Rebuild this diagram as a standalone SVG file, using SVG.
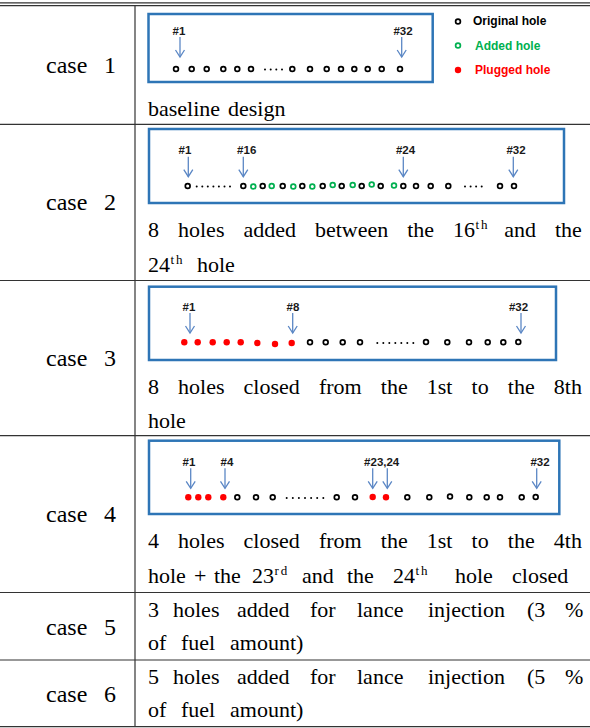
<svg xmlns="http://www.w3.org/2000/svg" width="590" height="728" viewBox="0 0 590 728">
<style>
.bg{fill:#fff}
.rule{stroke:#333;stroke-width:1.2;fill:none}
.box{fill:#fff;stroke:#2E75B6;stroke-width:2.5}
.o{fill:#fff;stroke:#000;stroke-width:1.7}
.g{fill:#fff;stroke:#00B050;stroke-width:1.7}
.p{fill:#FF0000}
.d{fill:#000}
.lb{font-family:'Liberation Sans',Arial,sans-serif;font-weight:bold;font-size:11.5px;text-anchor:middle;fill:#1a1a1a}
.lg{font-family:'Liberation Sans',Arial,sans-serif;font-weight:bold;font-size:12px}
.t{font-family:'Liberation Serif','DejaVu Serif',serif;font-size:22px;fill:#000}
.c{font-family:'Liberation Serif','DejaVu Serif',serif;font-size:24px;fill:#000}
.sup{font-size:13px;letter-spacing:2px}
.arr{stroke:#5B87C5;stroke-width:1.3;fill:none;marker-end:url(#ah)}
</style>
<defs>
<marker id="ah" viewBox="-1 -6 9 12" markerWidth="9" markerHeight="12" refX="7" refY="0" orient="auto" markerUnits="userSpaceOnUse" overflow="visible">
<path d="M0,-4.5 L7,0 L0,4.5" fill="none" stroke="#5B87C5" stroke-width="1.3"/>
</marker>
</defs>
<rect class="bg" x="0" y="0" width="590" height="728"/>

<g id="table">
<line class="rule" x1="0" y1="2.8" x2="590" y2="2.8"/>
<line class="rule" x1="0" y1="5.6" x2="590" y2="5.6"/>
<line class="rule" x1="135" y1="5.6" x2="135" y2="727"/>
<line class="rule" x1="0" y1="124.3" x2="590" y2="124.3"/>
<line class="rule" x1="0" y1="280.5" x2="590" y2="280.5"/>
<line class="rule" x1="0" y1="435.7" x2="590" y2="435.7"/>
<line class="rule" x1="0" y1="592.5" x2="590" y2="592.5"/>
<line class="rule" x1="0" y1="660" x2="590" y2="660"/>
<line class="rule" x1="0" y1="726.7" x2="590" y2="726.7"/>
</g>

<g id="case1">
<text class="c" x="46" y="73">case<tspan x="98"> 1</tspan></text>
<rect class="box" x="148.5" y="14" width="284.2" height="68"/>
<text class="lb" x="179" y="35">#1</text>
<text class="lb" x="403" y="35">#32</text>
<g>
<circle class="o" cx="176" cy="69" r="2.4"/><circle class="o" cx="191.7" cy="69" r="2.4"/><circle class="o" cx="206.7" cy="69" r="2.4"/><circle class="o" cx="223.3" cy="69" r="2.4"/><circle class="o" cx="237.3" cy="69" r="2.4"/><circle class="o" cx="251" cy="69" r="2.4"/>
<circle class="d" cx="265" cy="69.5" r="1"/><circle class="d" cx="270.7" cy="69.5" r="1"/><circle class="d" cx="276.3" cy="69.5" r="1"/><circle class="d" cx="282" cy="69.5" r="1"/>
<circle class="o" cx="292.3" cy="69" r="2.4"/><circle class="o" cx="310" cy="69" r="2.4"/><circle class="o" cx="326.7" cy="69" r="2.4"/><circle class="o" cx="341" cy="69" r="2.4"/><circle class="o" cx="354.3" cy="69" r="2.4"/><circle class="o" cx="367.7" cy="69" r="2.4"/><circle class="o" cx="381.7" cy="69" r="2.4"/><circle class="o" cx="400" cy="69" r="2.4"/>
</g>
<text class="t" y="116"><tspan x="148">baseline</tspan> <tspan x="228">design</tspan></text>
</g>

<g id="legend">
<circle class="o" cx="458" cy="21.5" r="2.4"/>
<text class="lg" x="473" y="25" fill="#000">Original hole</text>
<circle class="g" cx="458" cy="45.5" r="2.4"/>
<text class="lg" x="475" y="49.5" fill="#00B050">Added hole</text>
<circle class="p" cx="458" cy="70" r="3.2"/>
<text class="lg" x="475" y="74" fill="#FF0000">Plugged hole</text>
</g>

<g id="case2">
<text class="c" x="46" y="210">case<tspan x="98"> 2</tspan></text>
<rect class="box" x="149" y="129" width="415" height="74"/>
<text class="lb" x="185" y="154">#1</text>
<text class="lb" x="246.7" y="154">#16</text>
<text class="lb" x="405.5" y="154">#24</text>
<text class="lb" x="516" y="154">#32</text>
<g>
<circle class="o" cx="187.7" cy="186" r="2.4"/>
<circle class="d" cx="196.7" cy="186.5" r="1"/><circle class="d" cx="202.3" cy="186.5" r="1"/><circle class="d" cx="207.8" cy="186.5" r="1"/><circle class="d" cx="213.4" cy="186.5" r="1"/><circle class="d" cx="218.9" cy="186.5" r="1"/><circle class="d" cx="224.5" cy="186.5" r="1"/><circle class="d" cx="230" cy="186.5" r="1"/>
<circle class="o" cx="243.3" cy="186" r="2.4"/><circle class="g" cx="253.3" cy="186.5" r="2.4"/>
<circle class="o" cx="262.7" cy="186" r="2.4"/><circle class="g" cx="271.7" cy="186" r="2.4"/>
<circle class="o" cx="282.7" cy="186" r="2.4"/><circle class="g" cx="293.3" cy="186.5" r="2.4"/>
<circle class="o" cx="302.3" cy="186" r="2.4"/><circle class="g" cx="312.3" cy="186.5" r="2.4"/>
<circle class="o" cx="322.7" cy="186" r="2.4"/><circle class="g" cx="332.7" cy="185" r="2.4"/>
<circle class="o" cx="341.7" cy="186" r="2.4"/><circle class="g" cx="352.7" cy="185" r="2.4"/>
<circle class="o" cx="361.7" cy="186" r="2.4"/><circle class="g" cx="371.7" cy="184.5" r="2.4"/>
<circle class="o" cx="380.7" cy="186" r="2.4"/><circle class="g" cx="394" cy="185.5" r="2.4"/>
<circle class="o" cx="403.3" cy="186" r="2.4"/><circle class="o" cx="416" cy="186" r="2.4"/><circle class="o" cx="430.7" cy="186" r="2.4"/><circle class="o" cx="448.3" cy="186" r="2.4"/>
<circle class="d" cx="465" cy="186.5" r="1"/><circle class="d" cx="470.6" cy="186.5" r="1"/><circle class="d" cx="476.1" cy="186.5" r="1"/><circle class="d" cx="481.7" cy="186.5" r="1"/>
<circle class="o" cx="500" cy="186" r="2.4"/><circle class="o" cx="514" cy="186" r="2.4"/>
</g>
<text class="t" y="237"><tspan x="148">8</tspan> <tspan x="178">holes</tspan> <tspan x="243.4">added</tspan> <tspan x="314.9">between</tspan> <tspan x="407.2">the</tspan> <tspan x="453.1">16</tspan><tspan class="sup" x="475.5" y="229">th</tspan> <tspan x="504.2" y="237">and</tspan> <tspan x="555">the</tspan></text>
<text class="t" y="272"><tspan x="148">24</tspan><tspan class="sup" x="170.5" y="264">th</tspan> <tspan x="197" y="272">hole</tspan></text>
</g>

<g id="case3">
<text class="c" x="46" y="366">case<tspan x="98"> 3</tspan></text>
<rect class="box" x="149" y="286.7" width="407" height="73.3"/>
<text class="lb" x="189" y="311">#1</text>
<text class="lb" x="293" y="311">#8</text>
<text class="lb" x="518.5" y="311">#32</text>
<g>
<circle class="p" cx="184.3" cy="342.3" r="3.2"/><circle class="p" cx="197.7" cy="342.3" r="3.2"/><circle class="p" cx="212.7" cy="342.3" r="3.2"/><circle class="p" cx="226.7" cy="342.3" r="3.2"/><circle class="p" cx="240.7" cy="342.3" r="3.2"/><circle class="p" cx="257.3" cy="343" r="3.2"/><circle class="p" cx="275" cy="344" r="3.2"/><circle class="p" cx="291.7" cy="343" r="3.2"/>
<circle class="o" cx="310" cy="342.3" r="2.4"/><circle class="o" cx="325.7" cy="342.3" r="2.4"/><circle class="o" cx="342.7" cy="342.3" r="2.4"/><circle class="o" cx="360" cy="342.3" r="2.4"/>
<circle class="d" cx="377.3" cy="343" r="1"/><circle class="d" cx="383.3" cy="343" r="1"/><circle class="d" cx="389.3" cy="343" r="1"/><circle class="d" cx="395.3" cy="343" r="1"/><circle class="d" cx="401.3" cy="343" r="1"/><circle class="d" cx="407.3" cy="343" r="1"/><circle class="d" cx="413.3" cy="343" r="1"/>
<circle class="o" cx="426" cy="342" r="2.4"/><circle class="o" cx="447.3" cy="342.3" r="2.4"/><circle class="o" cx="469" cy="342.3" r="2.4"/><circle class="o" cx="487.7" cy="342.3" r="2.4"/><circle class="o" cx="503.3" cy="342.3" r="2.4"/><circle class="o" cx="518.3" cy="342" r="2.4"/>
</g>
<text class="t" y="394"><tspan x="148">8</tspan> <tspan x="178.1">holes</tspan> <tspan x="243.6">closed</tspan> <tspan x="318.9">from</tspan> <tspan x="380.8">the</tspan> <tspan x="426.8">1st</tspan> <tspan x="471.6">to</tspan> <tspan x="507.8">the</tspan> <tspan x="553.8">8th</tspan></text>
<text class="t" x="148" y="428">hole</text>
</g>

<g id="case4">
<text class="c" x="46" y="522">case<tspan x="98"> 4</tspan></text>
<rect class="box" x="149" y="440.7" width="410.3" height="73.3"/>
<text class="lb" x="189" y="465.7">#1</text>
<text class="lb" x="227" y="465.7">#4</text>
<text class="lb" x="381.7" y="465.7">#23,24</text>
<text class="lb" x="540" y="465.7">#32</text>
<g>
<circle class="p" cx="188.3" cy="497.3" r="3.2"/><circle class="p" cx="198.3" cy="497.3" r="3.2"/><circle class="p" cx="208.3" cy="497.3" r="3.2"/><circle class="p" cx="223.3" cy="497.3" r="3.2"/>
<circle class="o" cx="237.3" cy="497.3" r="2.4"/><circle class="o" cx="256" cy="497.3" r="2.4"/><circle class="o" cx="272.7" cy="497.3" r="2.4"/>
<circle class="d" cx="286.7" cy="498" r="1"/><circle class="d" cx="292.8" cy="498" r="1"/><circle class="d" cx="298.9" cy="498" r="1"/><circle class="d" cx="305" cy="498" r="1"/><circle class="d" cx="311.1" cy="498" r="1"/><circle class="d" cx="317.2" cy="498" r="1"/><circle class="d" cx="323.3" cy="498" r="1"/>
<circle class="o" cx="336.7" cy="497.3" r="2.4"/><circle class="o" cx="355" cy="497.3" r="2.4"/>
<circle class="p" cx="372.7" cy="497" r="3.2"/><circle class="p" cx="386" cy="497.3" r="3.2"/>
<circle class="o" cx="407.3" cy="497.3" r="2.4"/><circle class="o" cx="429.3" cy="497.3" r="2.4"/><circle class="o" cx="450" cy="496.5" r="2.4"/><circle class="o" cx="469.3" cy="497.3" r="2.4"/><circle class="o" cx="486.7" cy="497.3" r="2.4"/><circle class="o" cx="500" cy="497.3" r="2.4"/><circle class="o" cx="521.7" cy="497.3" r="2.4"/><circle class="o" cx="535.7" cy="497" r="2.4"/>
</g>
<text class="t" y="548"><tspan x="148">4</tspan> <tspan x="178.1">holes</tspan> <tspan x="243.6">closed</tspan> <tspan x="318.9">from</tspan> <tspan x="380.8">the</tspan> <tspan x="426.8">1st</tspan> <tspan x="471.6">to</tspan> <tspan x="507.8">the</tspan> <tspan x="553.8">4th</tspan></text>
<text class="t" y="583"><tspan x="148">hole</tspan> <tspan x="194">+</tspan> <tspan x="214">the</tspan> <tspan x="252">23</tspan><tspan class="sup" x="274.5" y="575">rd</tspan> <tspan x="302" y="583">and</tspan> <tspan x="347">the</tspan> <tspan x="393">24</tspan><tspan class="sup" x="415.5" y="575">th</tspan> <tspan x="455" y="583">hole</tspan> <tspan x="512">closed</tspan></text>
</g>

<g id="case5">
<text class="c" x="46" y="635">case<tspan x="98"> 5</tspan></text>
<text class="t" y="617"><tspan x="148">3</tspan> <tspan x="173">holes</tspan> <tspan x="237">added</tspan> <tspan x="310">for</tspan> <tspan x="357">lance</tspan> <tspan x="428">injection</tspan> <tspan x="527">(3</tspan> <tspan x="565">%</tspan></text>
<text class="t" y="650"><tspan x="148">of</tspan> <tspan x="181">fuel</tspan> <tspan x="230">amount)</tspan></text>
</g>

<g id="case6">
<text class="c" x="46" y="702">case<tspan x="98"> 6</tspan></text>
<text class="t" y="684"><tspan x="148">5</tspan> <tspan x="173">holes</tspan> <tspan x="237">added</tspan> <tspan x="310">for</tspan> <tspan x="357">lance</tspan> <tspan x="428">injection</tspan> <tspan x="527">(5</tspan> <tspan x="565">%</tspan></text>
<text class="t" y="717"><tspan x="148">of</tspan> <tspan x="181">fuel</tspan> <tspan x="230">amount)</tspan></text>
</g>

<g id="connectors">
<line class="arr" x1="180" y1="37" x2="180" y2="57"/>
<line class="arr" x1="401.7" y1="37" x2="401.7" y2="57"/>
<line class="arr" x1="188.3" y1="156.7" x2="188.3" y2="176.7"/>
<line class="arr" x1="243.3" y1="156.7" x2="243.3" y2="176.7"/>
<line class="arr" x1="403.3" y1="156.7" x2="403.3" y2="176.7"/>
<line class="arr" x1="513.3" y1="156.7" x2="513.3" y2="176.7"/>
<line class="arr" x1="190" y1="313" x2="190" y2="333"/>
<line class="arr" x1="292.7" y1="313" x2="292.7" y2="333"/>
<line class="arr" x1="521" y1="313" x2="521" y2="333"/>
<line class="arr" x1="190.7" y1="468.3" x2="190.7" y2="488.3"/>
<line class="arr" x1="225" y1="468.3" x2="225" y2="488.3"/>
<line class="arr" x1="372.7" y1="468.3" x2="372.7" y2="488.3"/>
<line class="arr" x1="387.3" y1="468.3" x2="387.3" y2="488.3"/>
<line class="arr" x1="536.7" y1="468.3" x2="536.7" y2="488.3"/>
</g>
</svg>
